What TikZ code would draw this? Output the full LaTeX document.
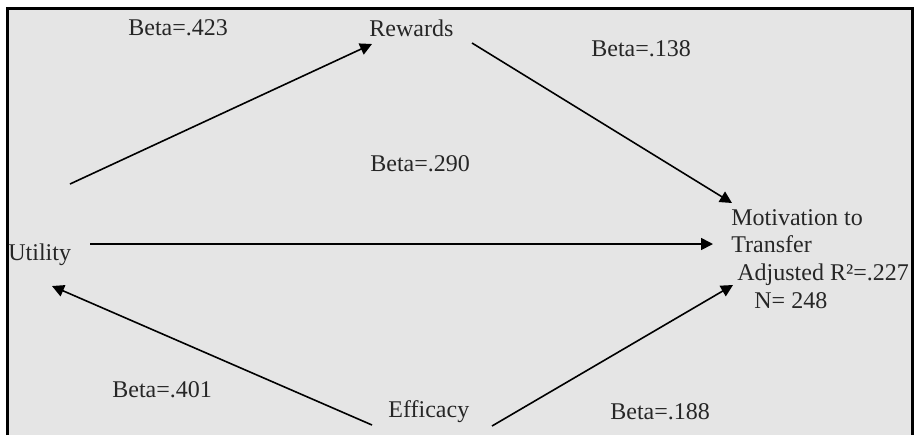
\documentclass[tikz,border=0pt]{standalone}
\usepackage{fontspec}
\setmainfont{Liberation Serif}
\usetikzlibrary{arrows.meta}
\definecolor{panelfill}{gray}{0.898}
\definecolor{inkgray}{gray}{0.15}
\tikzset{
  varlbl/.style    = {font=\fontsize{12}{13.8}\selectfont, text=inkgray,
                      inner sep=0pt, anchor=base west},
  betalbl/.style   = {varlbl},
  patharrow/.style = {line width=0.8pt, -{Triangle[length=6pt,width=6pt]}},
  frameline/.style = {line width=1.5pt}
}

\begin{document}
\begin{tikzpicture}[x=0.5pt, y=-0.5pt]
  \useasboundingbox (0,0) rectangle (914,435);
  \fill[panelfill] (6,7) rectangle (914,435);
  \draw[frameline] (7.5,435) -- (7.5,8.5) -- (912.5,8.5) -- (912.5,435);

  % variables
  \node[varlbl] (util) at (8,260)   {Utility};
  \node[varlbl] (rew)  at (369,36)  {Rewards};
  \node[varlbl] (eff)  at (388,417) {Efficacy};
  \node[varlbl, anchor=north west, align=left] (motiv) at (731,209)
        {Motivation to\\Transfer\\\hspace*{3pt}Adjusted R²=.227\\
         \hspace*{11.5pt}N= 248};

  % arrow ends
  \coordinate (util-ne)  at (70,184);
  \coordinate (util-e)   at (90,244);
  \coordinate (util-se)  at (52,286);
  \coordinate (rew-w)    at (372,44);
  \coordinate (rew-e)    at (472,43);
  \coordinate (eff-w)    at (372,425);
  \coordinate (eff-e)    at (492,426);
  \coordinate (motiv-nw) at (732,203);
  \coordinate (motiv-w)  at (713,244);
  \coordinate (motiv-sw) at (733,285);

  \draw[patharrow] (util-ne) -- (rew-w);
  \draw[patharrow] (rew-e)   -- (motiv-nw);
  \draw[patharrow] (util-e)  -- (motiv-w);
  \draw[patharrow] (eff-w)   -- (util-se);
  \draw[patharrow] (eff-e)   -- (motiv-sw);

  % coefficients
  \node[betalbl] (b423) at (128,35)  {Beta=.423};
  \node[betalbl] (b138) at (591,56)  {Beta=.138};
  \node[betalbl] (b290) at (370,171) {Beta=.290};
  \node[betalbl] (b401) at (112,397) {Beta=.401};
  \node[betalbl] (b188) at (610,419) {Beta=.188};
\end{tikzpicture}
\end{document}
